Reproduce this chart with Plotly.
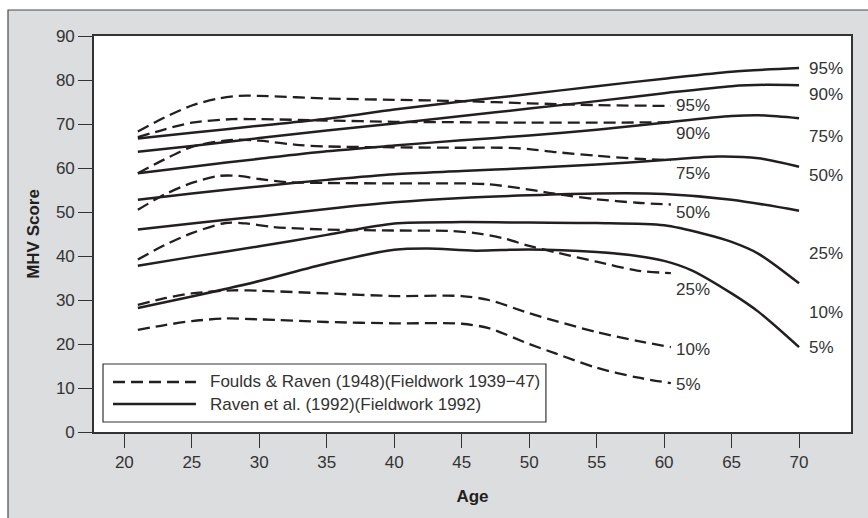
import plotly.graph_objects as go

# ---------------- data ----------------
percentiles = ["95%", "90%", "75%", "50%", "25%", "10%", "5%"]

# Raven et al. (1992) (solid)
ages_1992 = {
    "95%": [21, 25, 30, 35, 40, 45, 50, 55, 60, 65, 70],
    "90%": [21, 25, 30, 35, 40, 45, 50, 55, 60, 65, 67.5, 70],
    "75%": [21, 25, 30, 35, 40, 45, 50, 55, 60, 65, 67, 70],
    "50%": [21, 25, 30, 35, 40, 45, 50, 55, 60, 64, 67, 70],
    "25%": [21, 25, 30, 35, 40, 45, 50, 55, 60, 65, 70],
    "10%": [21, 25, 30, 35, 40, 45, 50, 55, 60, 63, 65, 67, 70],
    "5%":  [21, 25, 30, 35, 40, 42.5, 46, 50, 55, 58, 60, 62, 65, 67, 70],
}
scores_1992 = {
    "95%": [66.7, 68.0, 69.6, 71.2, 73.3, 75.1, 76.8, 78.6, 80.3, 81.9, 82.7],
    "90%": [63.7, 65.0, 66.8, 68.5, 70.1, 71.8, 73.5, 75.2, 77.0, 78.6, 78.9, 78.8],
    "75%": [58.8, 60.3, 62.1, 63.8, 65.1, 66.3, 67.4, 68.7, 70.3, 71.8, 72.0, 71.3],
    "50%": [52.8, 54.2, 55.8, 57.3, 58.6, 59.3, 60.0, 60.8, 61.8, 62.6, 62.2, 60.3],
    "25%": [46.0, 47.4, 49.0, 50.7, 52.2, 53.2, 53.8, 54.2, 54.1, 52.8, 50.3],
    "10%": [37.8, 39.8, 42.2, 44.8, 47.4, 47.7, 47.6, 47.5, 47.0, 45.0, 43.2, 40.5, 33.8],
    "5%":  [28.2, 30.8, 34.3, 38.3, 41.4, 41.7, 41.2, 41.5, 40.9, 40.0, 38.9, 36.8, 31.5, 27.3, 19.3],
}

# Foulds & Raven (1948) (dashed)
ages_1948 = {
    "95%": [21, 23, 25, 27, 28.5, 30, 35, 40, 45, 50, 55, 60.5],
    "90%": [21, 23, 25, 28, 30, 35, 40, 45, 50, 55, 60.5],
    "75%": [21, 23, 25, 28, 30, 33, 35, 40, 45, 48, 50, 52, 55, 58, 60.5],
    "50%": [21, 23, 25, 27, 28.5, 30, 32, 35, 40, 45, 47, 50, 52, 55, 58, 60.5],
    "25%": [21, 23, 25, 27.5, 29, 31, 35, 40, 44, 46, 48, 50, 52, 55, 58, 60.5],
    "10%": [21, 23, 25, 28, 30, 35, 40, 45, 47, 50, 52, 55, 58, 60.5],
    "5%":  [21, 23, 25, 27.5, 30, 35, 40, 45, 47, 50, 52, 55, 58, 60.5],
}
scores_1948 = {
    "95%": [68.3, 71.5, 74.2, 75.8, 76.4, 76.4, 75.8, 75.5, 75.2, 74.7, 74.3, 74.1],
    "90%": [67.0, 68.8, 70.3, 71.1, 71.1, 70.8, 70.5, 70.4, 70.3, 70.3, 70.4],
    "75%": [58.8, 62.0, 64.8, 66.4, 66.2, 65.2, 64.9, 64.7, 64.6, 64.6, 64.3, 63.6, 62.8, 62.1, 61.8],
    "50%": [50.5, 54.0, 56.6, 58.2, 58.2, 57.5, 56.8, 56.6, 56.5, 56.5, 56.3, 55.1, 54.1, 52.9, 52.1, 51.7],
    "25%": [39.2, 42.5, 45.2, 47.5, 47.4, 46.6, 46.0, 45.8, 45.7, 45.2, 44.1, 42.3, 40.8, 38.7, 36.7, 36.1],
    "10%": [28.9, 30.4, 31.5, 32.2, 32.1, 31.5, 30.9, 30.9, 30.0, 27.0, 25.2, 22.7, 20.7, 19.3],
    "5%":  [23.2, 24.3, 25.2, 25.8, 25.6, 25.0, 24.7, 24.6, 23.6, 20.0, 17.8, 14.6, 12.4, 11.1],
}

x_ticks = [20, 25, 30, 35, 40, 45, 50, 55, 60, 65, 70]
y_ticks = [0, 10, 20, 30, 40, 50, 60, 70, 80, 90]

legend_names = ["Foulds & Raven (1948)(Fieldwork 1939\u221247)",
                "Raven et al. (1992)(Fieldwork 1992)"]

# label placement (positions only)
label_y_1992 = [82.7, 76.7, 67.1, 58.4, 40.6, 27.1, 19.25]
label_y_1948 = [74.3, 67.9, 58.8, 49.8, 32.3, 18.8, 10.7]

# ---------------- style ----------------
INK = "#231f20"
AXIS = "#333333"
GRAY = "#dcdddf"
TXT = "Liberation Sans, Arial, sans-serif"
FS = 17

fig = go.Figure()

for p in percentiles:
    fig.add_trace(go.Scatter(
        x=ages_1948[p], y=scores_1948[p], mode="lines",
        line=dict(color=INK, width=2.3, dash="12px,6px", shape="spline", smoothing=0.8),
        name=legend_names[0], showlegend=False, hoverinfo="skip"))
    fig.add_trace(go.Scatter(
        x=ages_1992[p], y=scores_1992[p], mode="lines",
        line=dict(color=INK, width=2.5, shape="spline", smoothing=0.8),
        name=legend_names[1], showlegend=False, hoverinfo="skip"))

annotations = []
for p, yv in zip(percentiles, label_y_1992):
    annotations.append(dict(x=70.6, y=yv, xref="x", yref="y", text=p, showarrow=False,
                            xanchor="left", yanchor="middle",
                            font=dict(family=TXT, size=FS, color=AXIS)))
for p, yv in zip(percentiles, label_y_1948):
    annotations.append(dict(x=60.7, y=yv, xref="x", yref="y", text=p, showarrow=False,
                            xanchor="left", yanchor="middle",
                            font=dict(family=TXT, size=FS, color=AXIS)))

# manual legend (text)
annotations.append(dict(x=0.1506, y=0.1263, xref="paper", yref="paper", text=legend_names[0],
                        showarrow=False, xanchor="left", yanchor="middle",
                        font=dict(family=TXT, size=FS, color=AXIS)))
annotations.append(dict(x=0.1506, y=0.0707, xref="paper", yref="paper", text=legend_names[1],
                        showarrow=False, xanchor="left", yanchor="middle",
                        font=dict(family=TXT, size=FS, color=AXIS)))

shapes = [
    # outer gray frame (cropped at right and bottom)
    dict(type="rect", xref="paper", yref="paper", x0=-0.1136, x1=1.2, y0=-0.4, y1=1.0657,
         fillcolor=GRAY, line=dict(color="#4a4a4a", width=1.2), layer="below"),
    # white plot area
    dict(type="rect", xref="paper", yref="paper", x0=0, x1=1, y0=0, y1=1,
         fillcolor="white", line=dict(width=0), layer="below"),
    # legend box
    dict(type="rect", xref="paper", yref="paper", x0=0.0119, x1=0.597, y0=0.0253, y1=0.1717,
         fillcolor="white", line=dict(color=AXIS, width=1.2), layer="above"),
    dict(type="line", xref="paper", yref="paper", x0=0.0251, x1=0.1347, y0=0.1263, y1=0.1263,
         line=dict(color=INK, width=2.3, dash="12px,6px"), layer="above"),
    dict(type="line", xref="paper", yref="paper", x0=0.0251, x1=0.1347, y0=0.0707, y1=0.0707,
         line=dict(color=INK, width=2.5), layer="above"),
]

fig.update_layout(
    width=868, height=518,
    margin=dict(l=94, r=17, t=36, b=86, pad=0),
    paper_bgcolor="white", plot_bgcolor="white",
    showlegend=False,
    annotations=annotations, shapes=shapes,
    xaxis=dict(range=[17.75, 73.85], tickvals=x_ticks, ticktext=[str(v) for v in x_ticks],
               ticks="outside", ticklen=14, tickwidth=1.2, tickcolor=AXIS,
               showline=True, mirror=True, linecolor=AXIS, linewidth=1.6,
               showgrid=False, zeroline=False,
               tickfont=dict(family=TXT, size=FS, color=AXIS),
               title=dict(text="<b>Age</b>", standoff=19,
                          font=dict(family=TXT, size=17, color=INK))),
    yaxis=dict(range=[0, 90], tickvals=y_ticks, ticktext=[str(v) for v in y_ticks],
               ticks="outside", ticklen=14, tickwidth=1.2, tickcolor=AXIS,
               showline=True, mirror=True, linecolor=AXIS, linewidth=1.6,
               showgrid=False, zeroline=False,
               tickfont=dict(family=TXT, size=FS, color=AXIS),
               title=dict(text="<b>MHV Score</b>", standoff=12,
                          font=dict(family=TXT, size=17, color=INK))),
)

fig.write_html("out.html")
